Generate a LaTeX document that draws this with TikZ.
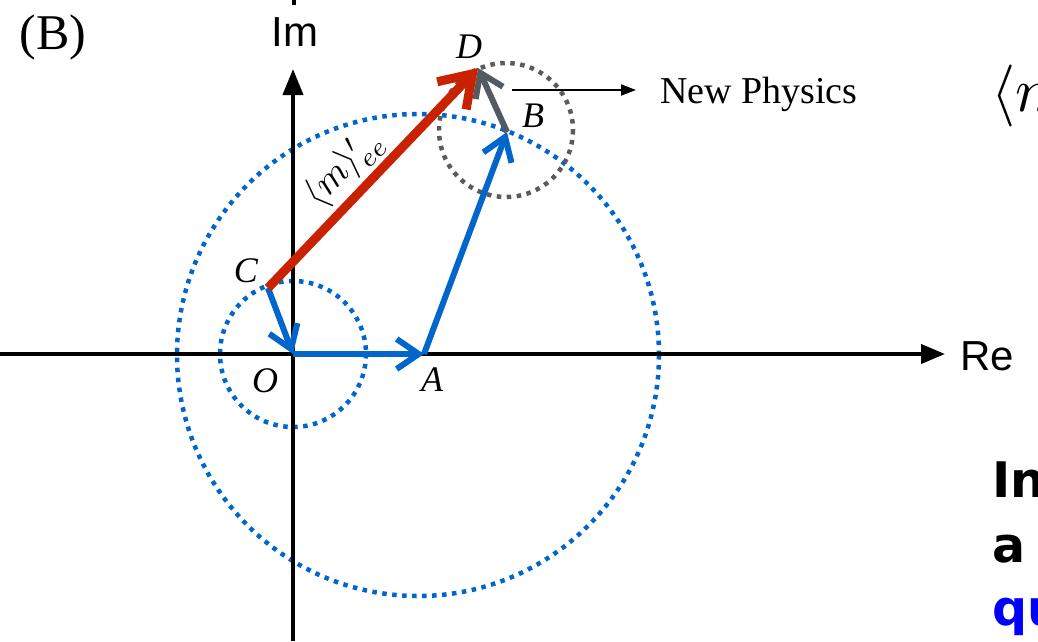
\documentclass[tikz,border=0pt]{standalone}
\usepackage{graphicx}
\usepackage{fontspec}
\setmainfont{Liberation Serif}
\newfontfamily\axisfont{Liberation Sans}
\newfontfamily\slidefont{DejaVu Sans}
\usetikzlibrary{arrows.meta}
\definecolor{vblue}{RGB}{0,102,204}
\definecolor{vred}{RGB}{200,34,0}
\definecolor{vgray}{RGB}{84,90,98}
\definecolor{cgray}{RGB}{90,90,96}
\definecolor{qblue}{RGB}{0,0,255}
\begin{document}
\begin{tikzpicture}[x=1pt,y=-1pt,
  axis/.style={line width=4pt,black},
  vec/.style={line width=6pt,vblue,-{Straight Barb[length=22pt,width=30pt]}},
  redvec/.style={line width=9pt,vred,-{Straight Barb[length=30pt,width=40pt]}},
  grayvec/.style={line width=6pt,vgray,-{Straight Barb[length=22pt,width=30pt]}},
  bluedots/.style={line width=4.5pt,vblue,dash pattern=on 4.5pt off 5.5pt},
  graydots/.style={line width=4.5pt,cgray,dash pattern=on 4.5pt off 5.5pt},
  ptlabel/.style={font=\fontsize{36}{40}\selectfont\itshape,inner sep=0pt},
  axlabel/.style={font=\axisfont\fontsize{42}{46}\selectfont,inner sep=0pt},
  slide/.style={font=\slidefont\bfseries\fontsize{49}{56}\selectfont,inner sep=0pt,anchor=base west}]
\useasboundingbox (0,0) rectangle (1038,641);
\clip (0,0) rectangle (1038,641);

% points
\coordinate (O) at (293,354);
\coordinate (A) at (424,354);
\coordinate (B) at (507,132);
\coordinate (C) at (268,288);
\coordinate (D) at (478,68);
\coordinate (K) at (418,355);
\coordinate (Xl) at (0,354);
\coordinate (Xr) at (945,354);
\coordinate (Yb) at (293,641);
\coordinate (Yt) at (293,69);
\coordinate (Mt) at (294,0);
\coordinate (Mb) at (294,5);
\coordinate (Ns) at (512,90);
\coordinate (Ne) at (636,90);

% dotted circles
\draw[bluedots] (K) circle[radius=241];
\draw[bluedots] (O) circle[radius=73];
\draw[graydots] (506,130) circle[radius=67];

% axes
\draw[axis,-{Triangle[length=24pt,width=19pt]}] (Xl) -- (Xr);
\draw[axis,-{Triangle[length=26pt,width=20pt]}] (Yb) -- (Yt);
\draw[axis] (Mt) -- (Mb);

% vectors
\draw[vec] (C) -- (O);
\draw[vec] (O) -- (A);
\draw[vec] (A) -- (B);
\draw[grayvec] (B) -- (D);
\draw[redvec] (C) -- (D);

% new physics arrow
\draw[line width=2pt,-{Triangle[length=15pt,width=11pt]}] (Ns) -- (Ne);
\node[font=\fontsize{38}{42}\selectfont,inner sep=0pt,anchor=base west] (np) at (660,103) {New Physics};

% labels
\node[font=\fontsize{50}{54}\selectfont,inner sep=0pt] (lb) at (53,37) {(B)};
\node[axlabel] (im) at (295,32) {Im};
\node[axlabel] (re) at (987,356) {Re};
\node[ptlabel] (lD) at (469,47) {D};
\node[ptlabel] (lB) at (533,116) {B};
\node[ptlabel] (lC) at (246,271) {C};
\node[ptlabel] (lO) at (265,381) {O};
\node[ptlabel] (lA) at (432,380) {A};
\node[inner sep=0pt,rotate=46.3] (mee) at (344,168) {\scalebox{3.8}{$\langle m\rangle'_{ee}$}};

% cut-off slide text at right edge
\node[inner sep=0pt,anchor=base west] (mr) at (991,111) {\scalebox{6.2}{$\langle m$}};
\node[slide] (t1) at (992,497) {In};
\node[slide] (t2) at (992,562) {a};
\node[slide,text=qblue] (t3) at (992,625) {qu};
\end{tikzpicture}
\end{document}
